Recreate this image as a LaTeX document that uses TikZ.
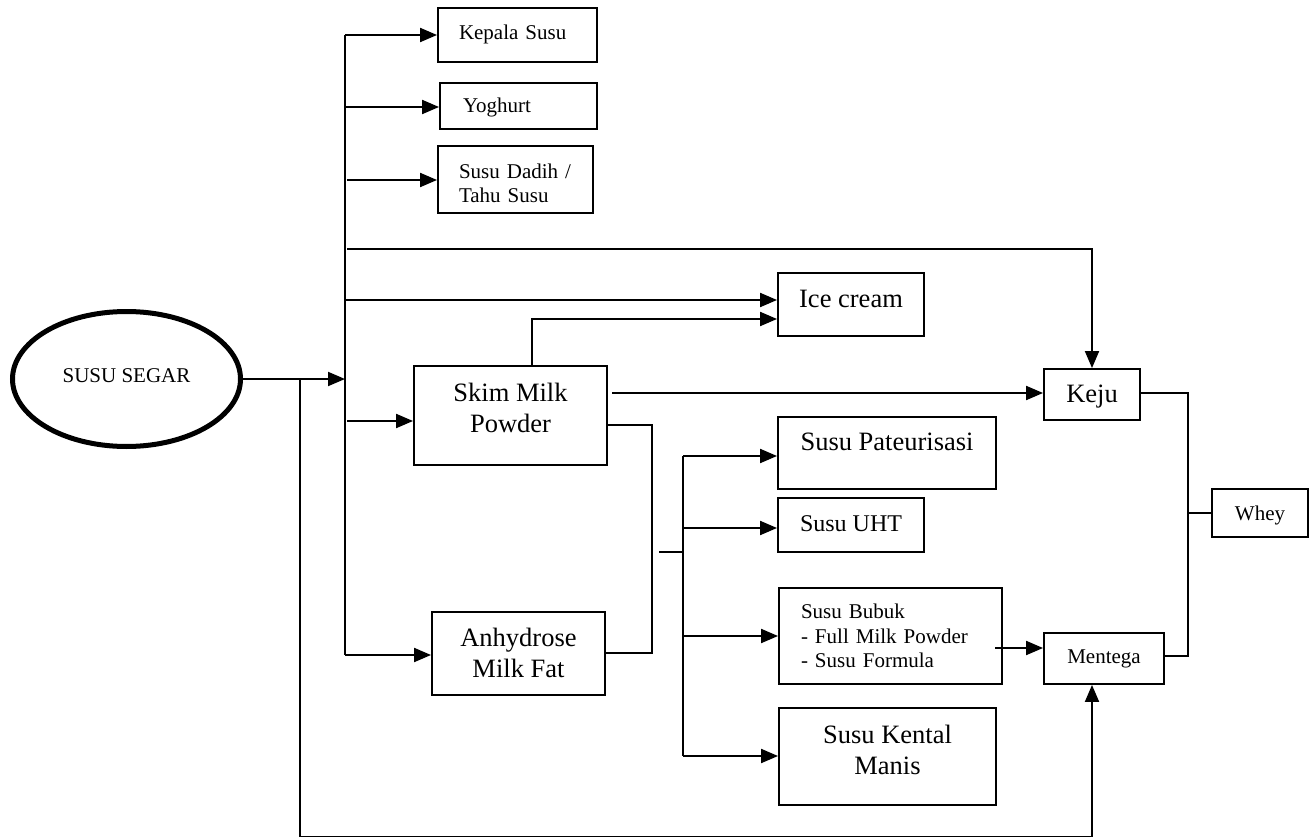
\documentclass[tikz,border=0pt]{standalone}
\usepackage{fontspec}
\setmainfont{Liberation Serif}
\usetikzlibrary{arrows.meta,shapes.geometric}
\newcommand\fntL{\fontsize{26.5}{31}\selectfont}
\newcommand\fntM{\fontsize{24}{28}\selectfont}
\newcommand\fntS{\fontsize{21}{24.3}\selectfont}
\begin{document}
\begin{tikzpicture}[x=1pt,y=-1pt,
  ln/.style={line width=2pt},
  arr/.style={line width=2pt,-{Triangle[length=17pt,width=14pt]}},
  lbox/.style={draw,line width=1.9pt,rectangle,inner ysep=0pt,align=left,font=\fntS},
  cbox/.style={draw,line width=1.9pt,rectangle,inner sep=0pt,align=center,font=\fntL},
  ell/.style={draw,ellipse,line width=5pt,inner sep=0pt,minimum width=228pt,minimum height=135pt,font=\fntS}]
\useasboundingbox (0,0) rectangle (1314,837);

% nodes
\node[ell,text depth=6pt] (segar) at (126.5,379) {SUSU SEGAR};
\node[lbox,minimum height=54pt,inner xsep=21pt,text width=117pt,text depth=6pt] (kepala) at (517.5,35) {Kepala Susu};
\node[lbox,minimum height=46pt,inner xsep=23pt,text width=111pt,text depth=2pt] (yog) at (518.5,106) {Yoghurt};
\node[lbox,minimum height=67pt,inner xsep=21pt,text width=113pt,text depth=17pt] (dadih) at (515.5,179.5) {Susu Dadih /\\Tahu Susu};
\node[cbox,minimum width=146pt,minimum height=63pt,text depth=10.5pt] (ice) at (851,304.5) {Ice cream};
\node[cbox,minimum width=193pt,minimum height=99pt,text depth=16pt] (skim) at (510.5,415.5) {Skim Milk\\Powder};
\node[cbox,minimum width=173pt,minimum height=83pt,text depth=2pt] (anh) at (518.5,653.5) {Anhydrose\\Milk Fat};
\node[cbox,minimum width=96pt,minimum height=51pt,text depth=1pt] (keju) at (1092,394.5) {Keju};
\node[cbox,minimum width=218pt,minimum height=72pt,text depth=22pt] (past) at (887,453) {Susu Pateurisasi};
\node[cbox,minimum width=146pt,minimum height=54pt,text depth=2pt,font=\fntM] (uht) at (851,525) {Susu UHT};
\node[lbox,minimum height=96pt,inner xsep=22pt,text width=179pt] (bubuk) at (890.5,636) {Susu Bubuk\\- Full Milk Powder\\- Susu Formula};
\node[cbox,minimum width=217pt,minimum height=97pt,text depth=14pt] (kental) at (887.5,756.5) {Susu Kental\\Manis};
\node[cbox,minimum width=120pt,minimum height=51pt,text depth=3pt,font=\fntS] (mentega) at (1104,658.5) {Mentega};
\node[cbox,minimum width=96pt,minimum height=48pt,text depth=0pt,font=\fntS] (whey) at (1260,513) {Whey};

% trunk from SUSU SEGAR
\draw[arr] (segar.east |- 0,379) -- (345,379);
\draw[ln] (345,35) -- (345,655);
\draw[arr] (345,35) -- (kepala.west);
\draw[arr] (345,107) -- (yog.west |- 0,107);
\draw[arr] (347,180) -- (dadih.west |- 0,180);
\draw[arr] (347,249) -- (1092,249) -- (keju.north);
\draw[arr] (345,300) -- (ice.west |- 0,300);
\draw[arr] (347,421) -- (skim.west |- 0,421);
\draw[arr] (345,655) -- (anh.west |- 0,655);

% skim milk powder outputs
\draw[arr] (532,0 |- skim.north) -- (532,319) -- (ice.west |- 0,319);
\draw[arr] (612,393) -- (keju.west |- 0,393);
\draw[ln] (skim.east |- 0,425) -- (652,425) -- (652,653) -- (anh.east |- 0,653);

% distribution to dairy products
\draw[ln] (659,552) -- (683,552);
\draw[ln] (683,456) -- (683,756);
\draw[arr] (683,456) -- (past.west |- 0,456);
\draw[arr] (683,528) -- (uht.west |- 0,528);
\draw[arr] (683,636) -- (bubuk.west);
\draw[arr] (683,756) -- (kental.west |- 0,756);
\draw[arr] (995,648) -- (mentega.west |- 0,648);

% whey
\draw[ln] (keju.east |- 0,393) -- (1188,393) -- (1188,656) -- (mentega.east |- 0,656);
\draw[ln] (1188,513) -- (whey.west);

% bottom route
\draw[arr] (300,379) -- (300,836.5) -- (1092,836.5) -- (1092,0 |- mentega.south);
\end{tikzpicture}
\end{document}
